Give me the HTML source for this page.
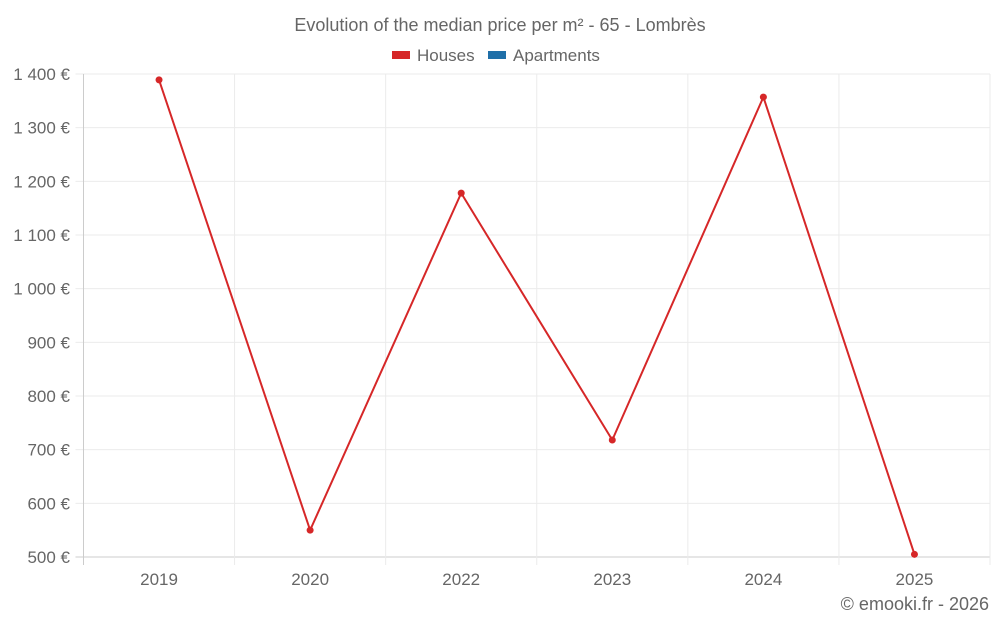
<!DOCTYPE html>
<html><head><meta charset="utf-8"><style>
body{margin:0;background:#fff;font-family:"Liberation Sans",sans-serif;}
svg text{font-family:"Liberation Sans",sans-serif;fill:#666;}
</style></head><body>
<svg width="1000" height="625" id="c">
<text x="500" y="31" text-anchor="middle" font-size="18">Evolution of the median price per m² - 65 - Lombrès</text>
<g>
<rect x="392" y="51" width="18" height="8" fill="#d62728"/>
<text x="417" y="61" font-size="17">Houses</text>
<rect x="488" y="51" width="18" height="8" fill="#1f6fa8"/>
<text x="513" y="61" font-size="17">Apartments</text>
</g>
<g id="grid"></g><g id="axes"></g><g id="series"></g>
<text x="989" y="610" text-anchor="end" font-size="18">© emooki.fr - 2026</text>
</svg>
<script>
const categories=["2019","2020","2022","2023","2024","2025"];
const housesValues=[1389,550,1178,718,1357,505];
const yTicks=[500,600,700,800,900,1000,1100,1200,1300,1400];
const yTickLabels=["500 €","600 €","700 €","800 €","900 €","1 000 €","1 100 €","1 200 €","1 300 €","1 400 €"];
const L=83.5,R=990,T=74,B=557,yMin=500,yMax=1400;
const band=(R-L)/categories.length;
const x=i=>L+band*(i+0.5);
const y=v=>B-(v-yMin)/(yMax-yMin)*(B-T);
const NS="http://www.w3.org/2000/svg";
function mk(t,a,p){const e=document.createElementNS(NS,t);for(const k in a)e.setAttribute(k,a[k]);p.appendChild(e);return e;}
const g=document.getElementById('grid'),ax=document.getElementById('axes'),s=document.getElementById('series');
yTicks.forEach((v,i)=>{
 const l=mk('line',{x1:L-8,x2:R,y1:y(v),y2:y(v),stroke:i==0?'#ccc':'#ebebeb'},g);
 
 
 const t=mk('text',{x:70,y:y(v)+6,'text-anchor':'end','font-size':'17'},ax);
 t.textContent=yTickLabels[i];
 
 
});
for(let i=0;i<=categories.length;i++){
 const l=mk('line',{x1:L+band*i,x2:L+band*i,y1:T,y2:B+8,stroke:i==0?'#ccc':'#ebebeb'},g);
 
 
}
categories.forEach((c,i)=>{
 const t=mk('text',{x:x(i),y:585,'text-anchor':'middle','font-size':'17'},ax);
 t.textContent=c;
 
 
});
const p=mk('polyline',{points:housesValues.map((v,i)=>x(i)+','+y(v)).join(' '),fill:'none',stroke:'#d62728','stroke-width':'2'},s);


housesValues.forEach((v,i)=>{
 const c=mk('circle',{cx:x(i),cy:y(v),r:3.5,fill:'#d62728'},s);
 
 
});
</script>
</body></html>
